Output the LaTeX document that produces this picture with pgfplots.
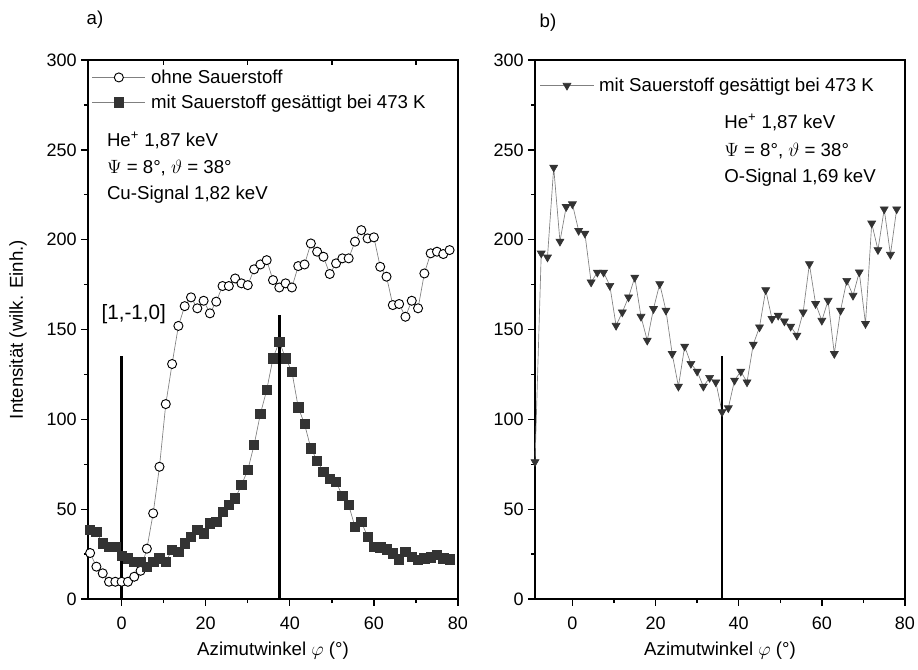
\documentclass[border=0pt]{standalone}
\usepackage{pgfplots}
\pgfplotsset{compat=1.18}
\usepackage{fontspec}
\setmainfont{Liberation Sans}

\pgfplotsset{
 myax/.style={
  scale only axis, width=277.5pt, height=404.25pt,
  ymin=0, ymax=300, xmax=80,
  xtick={0,20,40,60,80}, ytick={0,50,...,300},
  minor xtick={10,30,50,70}, minor ytick={25,75,...,275},
  tick align=outside, xtick pos=bottom, ytick pos=left,
  major tick length=5pt, minor tick length=3pt,
  axis line style={line width=1pt},
  every tick/.style={black, line width=1pt},
  tick label style={font=\fontsize{13.5}{16}\selectfont},
  /pgf/number format/assume math mode=true,
  label style={font=\fontsize{14}{17}\selectfont},
  xticklabel style={yshift=-5pt},
  xlabel={Azimutwinkel $\varphi$ (°)},
  xlabel style={at={(axis description cs:0.5,-0.095)},anchor=center},
  clip=false,
  legend style={draw=none, fill=none, inner sep=0pt, row sep=5pt,
    font=\fontsize{14}{17}\selectfont, legend cell align=left,
    nodes={inner xsep=4pt, inner ysep=1pt}},
  legend image code/.code={\draw[mark repeat=2,mark phase=2,#1] plot coordinates {(0cm,0cm) (0.7cm,0cm) (1.4cm,0cm)};},
 }
}
\newcommand{\tf}{\fontsize{14}{17}\selectfont}

\begin{document}
\begin{tikzpicture}
\path[use as bounding box] (-66pt,-52.5pt) rectangle (622.5pt,449.25pt);

% ---------- panel a ----------
\begin{axis}[myax, xmin=-8,
  ylabel={Intensität (wilk. Einh.)},
  ylabel style={at={(axis description cs:-0.189,0.5)},anchor=center},
  legend style={at={(axis description cs:0.010,0.985)},anchor=north west}]
\addplot[color=gray, line width=0.5pt, mark=*, mark size=3.4pt,
  mark options={solid, draw=black, fill=white, line width=0.7pt}]
coordinates {
(-7.5,25.6)(-6,18)(-4.5,14.3)(-3,9.6)(-1.5,9.6)(0,9.6)(1.5,9.6)(3,12.4)(4.5,15.7)(6,28)
(7.5,47.7)(9,73.6)(10.5,108.5)(12,130.8)(13.5,152)(15,163)(16.5,167.9)(18,161.8)(19.5,166)(21,159)
(22.5,165.5)(24,174.2)(25.5,174.2)(27,178.4)(28.5,175.7)(30,174.7)(31.5,183.5)(33,186.2)(34.5,188.6)(36,177.5)
(37.5,173.4)(39,175.7)(40.5,173.4)(42,185.3)(43.5,186.2)(45,197.9)(46.5,193.3)(48,190.5)(49.5,180.9)(51,186.8)
(52.5,189.6)(54,189.6)(55.5,198.9)(57,205.3)(58.5,200.7)(60,201.3)(61.5,184.9)(63,179.4)(64.5,163.6)(66,164.2)
(67.5,157.1)(69,166)(70.5,161.8)(72,181.2)(73.5,192.4)(75,193.3)(76.5,192)(78,194.2)
};
\addlegendentry{ohne Sauerstoff}
\addplot[color=gray, line width=0.5pt, mark=square*, mark size=3.5pt,
  mark options={solid, draw=black!80, fill=black!80}]
coordinates {
(-7.5,38.4)(-6,37.5)(-4.5,31)(-3,29.1)(-1.5,29.1)(0,23.9)(1.5,22.6)(3,20.8)(4.5,20.8)(6,18)
(7.5,20.8)(9,22.6)(10.5,20.8)(12,27.3)(13.5,26.3)(15,31)(16.5,34.7)(18,38.4)(19.5,36.6)(21,42.1)
(22.5,43)(24,48.6)(25.5,52.3)(27,56)(28.5,63.4)(30,71.8)(31.5,85.7)(33,103)(34.5,116.3)(36,134)
(37.5,143.2)(39,134)(40.5,126.5)(42,106.7)(43.5,97.4)(45,83.9)(46.5,77)(48,70.8)(49.5,66.8)(51,65.3)
(52.5,57.3)(54,52.3)(55.5,40.2)(57,43)(58.5,34.7)(60,29.1)(61.5,28.8)(63,27.6)(64.5,25.4)(66,22.1)
(67.5,26.3)(69,23.5)(70.5,21.7)(72,22.6)(73.5,23.2)(75,24.5)(76.5,22.6)(78,22.1)
};
\addlegendentry{mit Sauerstoff gesättigt bei 473 K}
\addplot[black, line width=2pt, forget plot] coordinates {(0,0) (0,135)};
\addplot[black, line width=2pt, forget plot] coordinates {(37.5,0) (37.5,158)};
\node[anchor=west, font=\tf] at (axis cs:-4.6,255.4) {He\textsuperscript{+} 1,87 keV};
\node[anchor=west, font=\tf] at (axis cs:-4.6,239.8) {$\Psi$ = 8°, $\vartheta$ = 38°};
\node[anchor=west, font=\tf] at (axis cs:-4.6,224.8) {Cu-Signal 1,82 keV};
\node[anchor=west, font=\fontsize{15.5}{18}\selectfont] at (axis cs:-5.9,158.6) {[1,-1,0]};
\node[font=\tf] at (axis description cs:0.019,1.074) {a)};
\end{axis}
% top ticks of panel a
\begin{axis}[scale only axis, width=277.5pt, height=404.25pt,
  xmin=-8, xmax=80, ymin=0, ymax=300,
  axis x line*=top, axis y line=none,
  xtick={10,30,50,70}, xticklabels={}, tick align=inside,
  major tick length=4pt, axis line style={line width=1pt},
  every tick/.style={black, line width=1pt}]
\addplot[draw=none] coordinates {(0,0)};
\end{axis}

% ---------- panel b ----------
\begin{axis}[myax, xmin=-9, at={(335.25pt,0pt)}, anchor=south west,
  legend style={at={(axis description cs:0.013,0.970)},anchor=north west}]
\addplot[color=gray, line width=0.5pt, mark=triangle*, mark size=3.4pt,
  mark options={solid, rotate=180, draw=black!80, fill=black!80}]
coordinates {
(-9,76.3)(-7.5,192.4)(-6,190.2)(-4.5,240.2)(-3,199)(-1.5,218.3)(0,219.8)(1.5,205)(3,203.5)(4.5,176.3)
(6,181.8)(7.5,181.8)(9,174.4)(10.5,152.2)(12,159.6)(13.5,168)(15,179)(16.5,157.2)(18,143.9)(19.5,161.5)
(21,175.4)(22.5,160.6)(24,136.5)(25.5,118.3)(27,140.6)(28.5,131)(30,126.7)(31.5,118.3)(33,123.2)(34.5,120.7)
(36,104.1)(37.5,106.3)(39,121.7)(40.5,126.7)(42,120.7)(43.5,141.7)(45,151.3)(46.5,172)(48,156)(49.5,157.8)
(51,154.6)(52.5,151.7)(54,146.7)(55.5,159.6)(57,186.5)(58.5,164.3)(60,155)(61.5,166.1)(63,136.5)(64.5,160.6)
(66,177.2)(67.5,168.9)(69,181.9)(70.5,153.2)(72,209.1)(73.5,194.3)(75,217)(76.5,191.7)(78,217)
};
\addlegendentry{mit Sauerstoff gesättigt bei 473 K}
\addplot[black, line width=2pt, forget plot] coordinates {(36,0) (36,135)};
\node[anchor=west, font=\tf] at (axis cs:35.4,265) {He\textsuperscript{+} 1,87 keV};
\node[anchor=west, font=\tf] at (axis cs:35.4,249.4) {$\Psi$ = 8°, $\vartheta$ = 38°};
\node[anchor=west, font=\tf] at (axis cs:35.4,234.4) {O-Signal 1,69 keV};
\node[font=\tf] at (axis description cs:0.035,1.070) {b)};
\end{axis}
\end{tikzpicture}
\end{document}
